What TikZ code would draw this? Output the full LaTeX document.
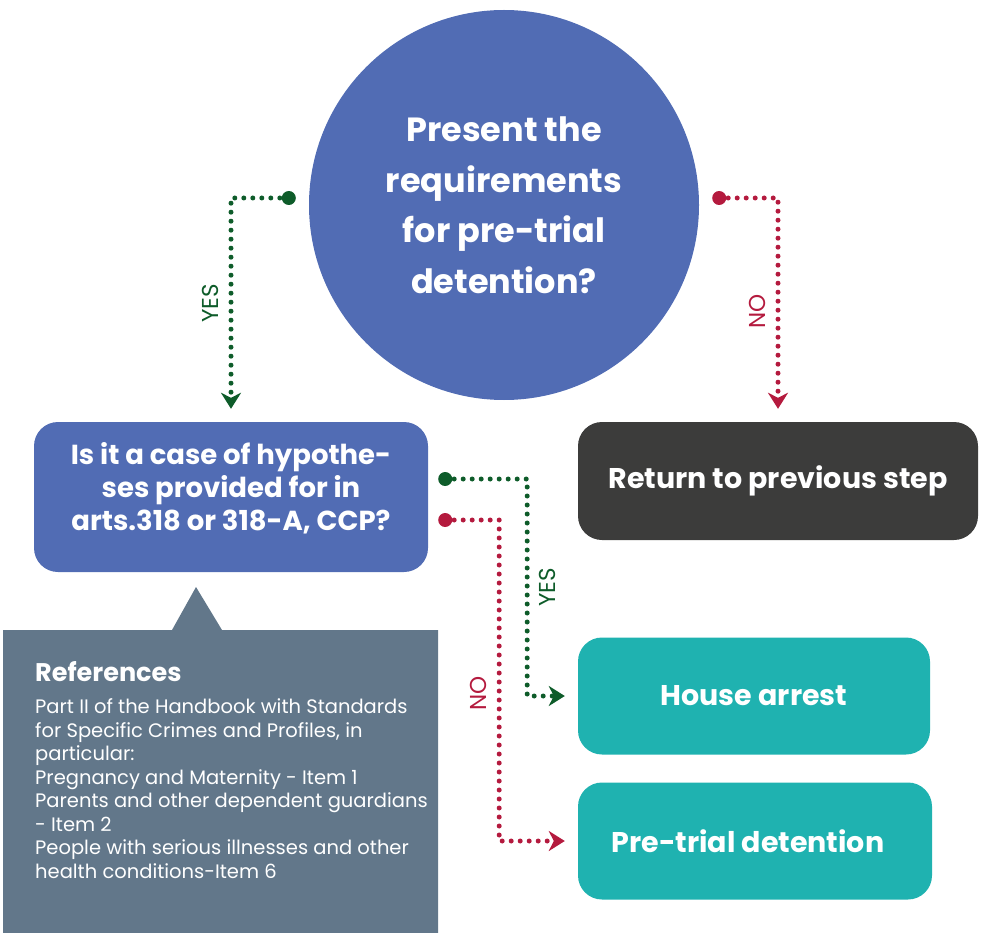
\documentclass[tikz,border=0pt]{standalone}
\usepackage{fontspec}
\setmainfont{Poppins}
\usetikzlibrary{arrows.meta,positioning}
\definecolor{qblue}{RGB}{81,108,180}
\definecolor{darkbox}{RGB}{60,60,59}
\definecolor{tealbox}{RGB}{31,178,176}
\definecolor{slate}{RGB}{98,119,138}
\definecolor{yesgreen}{RGB}{14,92,42}
\definecolor{nored}{RGB}{180,26,62}
\tikzset{
  box/.style={rectangle, rounded corners=24pt, text=white, align=center,
    font=\fontsize{28.5}{33}\selectfont\bfseries},
  dotline/.style={line width=5pt, line cap=round, dash pattern=on 0pt off 9pt,
    -{Stealth[length=16pt,width=20pt,inset=5pt]}},
  lbl/.style={rotate=90, font=\fontsize{23}{23}\selectfont, inner sep=10pt},
}
\begin{document}
\begin{tikzpicture}[x=1pt,y=-1pt]
\useasboundingbox (0,0) rectangle (984,933);

% question circle
\node[circle, fill=qblue, minimum size=390pt, text=white, align=center,
  font=\fontsize{33.5}{50.5}\selectfont\bfseries] (req) at (504,205)
  {Present the\\requirements\\for pre-trial\\detention?};

% boxes
\node[box, fill=qblue, minimum width=394pt, minimum height=150pt, text depth=22pt,
  font=\fontsize{27.5}{33}\selectfont\bfseries] (hyp) at (231,497)
  {Is it a case of hypothe-\\ses provided for in\\arts.318 or 318-A, CCP?};
\node[box, fill=darkbox, minimum width=400pt, minimum height=118pt] (back) at (778,481)
  {Return to previous step};
\node[box, fill=tealbox, minimum width=352pt, minimum height=117pt] (house) at (754,696)
  {House arrest};
\node[box, fill=tealbox, minimum width=354pt, minimum height=117pt] (pretrial) at (755,841)
  {\hspace*{-14pt}Pre-trial detention};

% references
\fill[slate] (3,630) -- (172,630) -- (196,587) -- (222,630) -- (438,630)
  -- (438,933) -- (3,933) -- cycle;
\node[anchor=base west, inner sep=0, text=white,
  font=\fontsize{25.5}{25.5}\selectfont\bfseries] (reftitle) at (35,681) {References};
\node[below=17pt of reftitle.south west, anchor=north west, inner sep=0, text=white,
  align=left, font=\fontsize{19.5}{23.5}\selectfont] (refbody)
  {Part II of the Handbook with Standards\\for Specific Crimes and Profiles, in\\particular:\\
   Pregnancy and Maternity - Item 1\\Parents and other dependent guardians\\- Item 2\\
   People with serious illnesses and other\\health conditions-Item 6};

% connectors
\coordinate (y1) at ([xshift=-20pt,yshift=7pt]req.west);
\coordinate (n1) at ([xshift=20pt,yshift=7pt]req.east);
\coordinate (y2) at ([xshift=17pt,yshift=18pt]hyp.east);
\coordinate (n2) at ([xshift=17pt,yshift=-23pt]hyp.east);

\fill[yesgreen] (y1) circle (7);
\draw[dotline, yesgreen] (y1) -| node[pos=.75, lbl, anchor=south] {YES}
  ([yshift=13pt]hyp.north);
\fill[nored] (n1) circle (7);
\draw[dotline, nored] (n1) -| node[pos=.77, lbl, anchor=south] {NO}
  ([yshift=13pt]back.north);
\fill[yesgreen] (y2) circle (7);
\draw[dotline, yesgreen] (y2) -- ++(82,0) |- node[pos=.25, lbl, anchor=north] {YES}
  ([xshift=-13pt]house.west);
\fill[nored] (n2) circle (7);
\draw[dotline, nored] (n2) -- ++(54,0) |- node[pos=.27, lbl, anchor=south] {NO}
  ([xshift=-13pt]pretrial.west);
\end{tikzpicture}
\end{document}
